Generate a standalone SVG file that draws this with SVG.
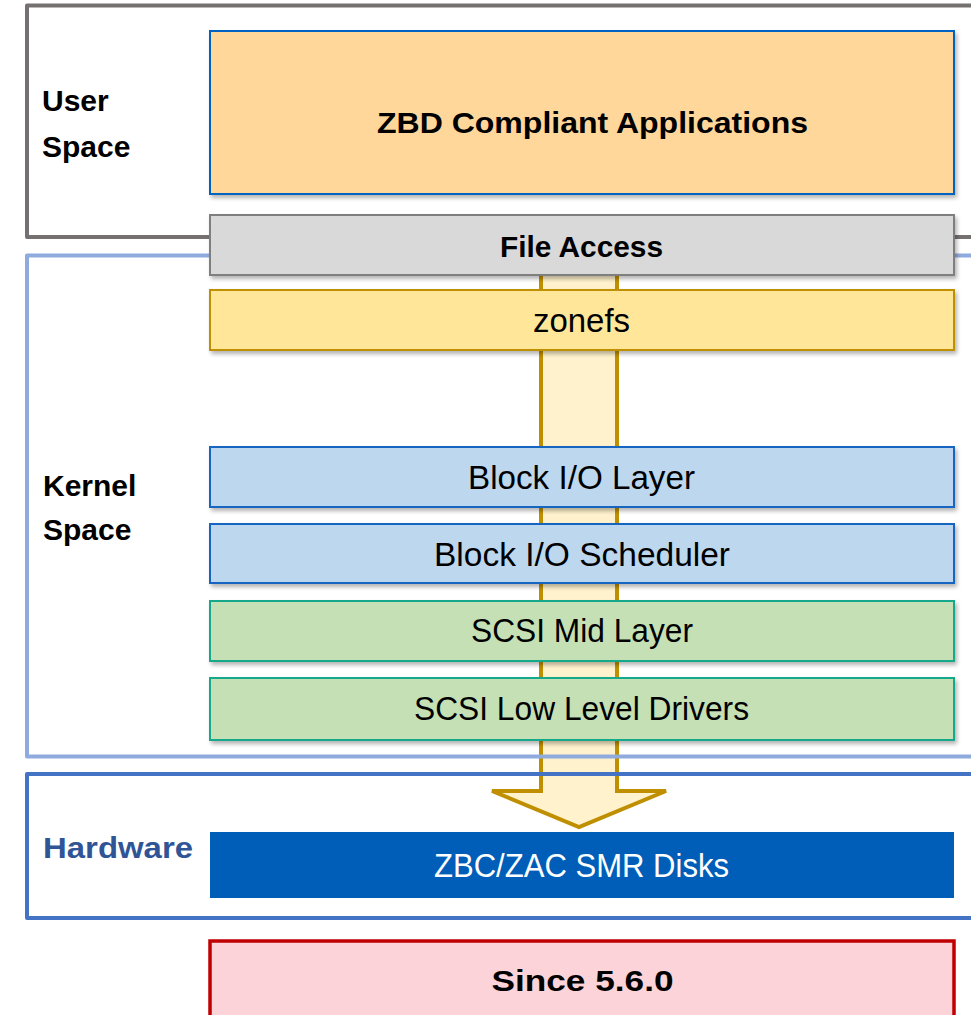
<svg xmlns="http://www.w3.org/2000/svg" width="971" height="1015" viewBox="0 0 971 1015">
  <defs>
    <filter id="shadow" x="-5%" y="-20%" width="110%" height="150%">
      <feGaussianBlur in="SourceAlpha" stdDeviation="2"/>
      <feOffset dx="2" dy="3" result="blur"/>
      <feComponentTransfer><feFuncA type="linear" slope="0.3"/></feComponentTransfer>
      <feMerge><feMergeNode/><feMergeNode in="SourceGraphic"/></feMerge>
    </filter>
  </defs>
  <style>
    .frame { fill: none; stroke-width: 4; stroke-linejoin: round; }
    .box { stroke-width: 2; filter: url(#shadow); }
    .lbl { font-family: "Liberation Sans", Arial, sans-serif; font-size: 30px; font-weight: bold; fill: #000; }
    .bold { font-family: "Liberation Sans", Arial, sans-serif; font-size: 30px; font-weight: bold; fill: #000; text-anchor: middle; }
    .reg { font-family: "Liberation Sans", Arial, sans-serif; font-size: 33px; fill: #000; text-anchor: middle; }
  </style>

  <rect width="971" height="1015" fill="#ffffff"/>

  <!-- data-path arrow running down through the stack -->
  <g id="connectors">
    <path d="M541,262 V791 H492 L579,827 L666,791 H617 V262 Z" fill="#fff2cc" stroke="#bf8f00" stroke-width="4" stroke-linejoin="miter"/>
  </g>

  <!-- space frames, open on the right -->
  <g id="frame-user">
    <path class="frame" d="M975,5.5 H27 V237 H975" stroke="#767171"/>
    <text class="lbl" x="42" y="111">User</text>
    <text class="lbl" x="42" y="157">Space</text>
  </g>
  <g id="frame-kernel">
    <path class="frame" d="M975,255.5 H27 V756.5 H975" stroke="#8faadc"/>
    <text class="lbl" x="43" y="496">Kernel</text>
    <text class="lbl" x="43" y="540">Space</text>
  </g>
  <g id="frame-hardware">
    <path class="frame" d="M975,774 H27 V918 H975" stroke="#4472c4"/>
    <text class="lbl" x="43" y="858" fill="#2f5597" style="fill:#2f5597" textLength="150" lengthAdjust="spacingAndGlyphs">Hardware</text>
  </g>

  <!-- layers -->
  <g id="zbd-apps">
    <rect class="box" x="210" y="31" width="744" height="163" fill="#ffd79b" stroke="#0563c1"/>
    <text class="bold" x="592.5" y="133" textLength="431" lengthAdjust="spacingAndGlyphs">ZBD Compliant Applications</text>
  </g>
  <g id="file-access">
    <rect class="box" x="210" y="215" width="744" height="60" fill="#d9d9d9" stroke="#7f7f7f"/>
    <text class="bold" x="581.5" y="257" textLength="163" lengthAdjust="spacingAndGlyphs">File Access</text>
  </g>
  <g id="zonefs">
    <rect class="box" x="210" y="290" width="744" height="60" fill="#ffe699" stroke="#bf9000"/>
    <text class="reg" x="581.5" y="332" textLength="97" lengthAdjust="spacingAndGlyphs">zonefs</text>
  </g>
  <g id="block-io-layer">
    <rect class="box" x="210" y="447" width="744" height="60" fill="#bdd7ee" stroke="#1565c0"/>
    <text class="reg" x="581.5" y="489" textLength="227" lengthAdjust="spacingAndGlyphs">Block I/O Layer</text>
  </g>
  <g id="block-io-scheduler">
    <rect class="box" x="210" y="524" width="744" height="59" fill="#bdd7ee" stroke="#1565c0"/>
    <text class="reg" x="582" y="566" textLength="296" lengthAdjust="spacingAndGlyphs">Block I/O Scheduler</text>
  </g>
  <g id="scsi-mid-layer">
    <rect class="box" x="210" y="601" width="744" height="60" fill="#c5e0b4" stroke="#14a88a"/>
    <text class="reg" x="582" y="642" textLength="222" lengthAdjust="spacingAndGlyphs">SCSI Mid Layer</text>
  </g>
  <g id="scsi-lld">
    <rect class="box" x="210" y="678" width="744" height="62" fill="#c5e0b4" stroke="#14a88a"/>
    <text class="reg" x="581.5" y="720" textLength="335" lengthAdjust="spacingAndGlyphs">SCSI Low Level Drivers</text>
  </g>
  <g id="smr-disks">
    <rect x="210" y="832" width="744" height="66" fill="#005eb8"/>
    <text class="reg" x="581.5" y="877" style="fill:#ffffff" textLength="295" lengthAdjust="spacingAndGlyphs">ZBC/ZAC SMR Disks</text>
  </g>
  <g id="since-version">
    <rect x="210" y="941" width="744" height="80" fill="#fbd3d8" stroke="#c00000" stroke-width="3.5"/>
    <text class="bold" x="582.5" y="991" textLength="182" lengthAdjust="spacingAndGlyphs">Since 5.6.0</text>
  </g>
</svg>
